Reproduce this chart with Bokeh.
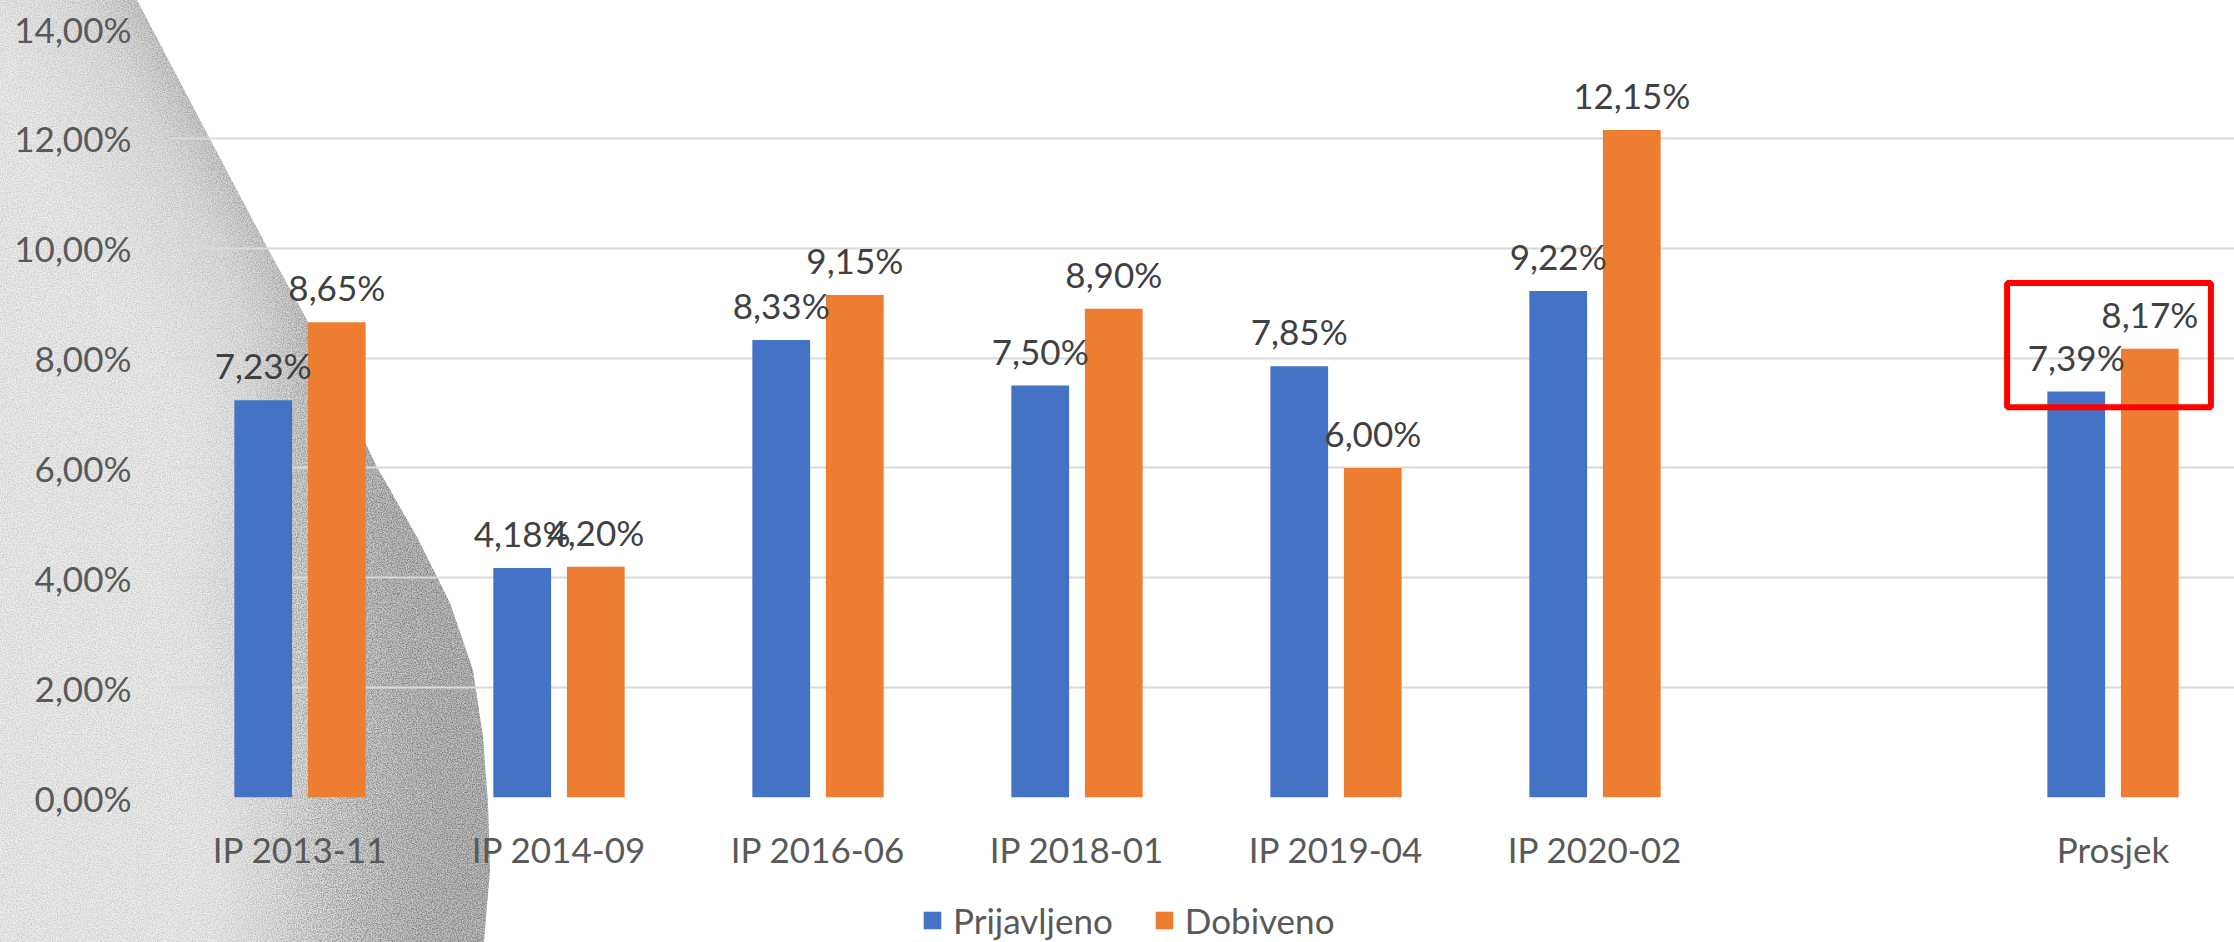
import urllib.parse
import numpy as np
from bokeh.plotting import figure
from bokeh.layouts import column
from bokeh.models import (Range1d, FixedTicker, Legend, LegendItem,
                          BoxAnnotation, ColumnDataSource)
from bokeh.core.properties import value
from bokeh.embed import file_html
from bokeh.resources import INLINE

# ---------------- data ----------------
categories = ["IP 2013-11", "IP 2014-09", "IP 2016-06", "IP 2018-01",
              "IP 2019-04", "IP 2020-02", "", "Prosjek"]
prijavljeno = [7.23, 4.18, 8.33, 7.50, 7.85, 9.22, None, 7.39]
dobiveno = [8.65, 4.20, 9.15, 8.90, 6.00, 12.15, None, 8.17]
series_names = ["Prijavljeno", "Dobiveno"]
y_ticks = [0, 2, 4, 6, 8, 10, 12, 14]
y_tick_labels = ["0,00%", "2,00%", "4,00%", "6,00%", "8,00%", "10,00%", "12,00%", "14,00%"]
highlight_category = "Prosjek"

# ---------------- style ----------------
BLUE = "#4472C4"
ORANGE = "#ED7D31"
FONT = "Lato"
FS = "35px"
W, H = 2234, 942
H_LEG = 70
H_MAIN = H - H_LEG
LEFT, TOP, BOTTOM = 170, 28, H_MAIN - 798
X_END = 7.969
BAR_W = 0.223
OFF = 0.142

def fmt(v):
    return ("%.2f%%" % v).replace(".", ",")

# ---------------- decorative grey texture (page background behind the chart) ----------------
bx = np.array([137, 200, 267, 307, 340, 377, 417, 450, 473, 483, 488, 490, 484], float)
by = np.array([0, 120, 247, 320, 390, 467, 537, 603, 670, 737, 803, 870, 942], float)
ext_y = np.concatenate([[-150], by, [1100]])
ext_x = np.concatenate([[bx[0] - 80], bx, [bx[-1]]])

def path_str(xs, ys):
    return "M" + " L".join("%.1f,%.1f" % (a, b) for a, b in zip(xs, ys)) + " Z"

def strip(w, y0, y1):
    ramp = np.clip((ext_y - y0) / max(y1 - y0, 1), 0, 1)
    ww = w * ramp
    xs = list(ext_x + 120) + list((ext_x - ww)[::-1])
    ys = list(ext_y) + list(ext_y[::-1])
    return path_str(xs, ys)

shape = path_str([-10] + list(bx) + [-10], [-10] + list(by) + [960])
layers = [(110, 0.05, -300, -200), (230, 0.06, 300, 600),
          (130, 0.07, 380, 620), (60, 0.03, 450, 700)]
strips = "".join(f"<path d='{strip(w, y0, y1)}' fill='black' fill-opacity='{a}'/>"
                 for w, a, y0, y1 in layers)
noise_strip = strip(200, 300, 620)
parts = [
    f"<svg xmlns='http://www.w3.org/2000/svg' width='{W}' height='{H}'>",
    f"<defs><clipPath id='c'><path d='{shape}'/></clipPath>",
    "<filter id='b' x='-50%' y='-50%' width='200%' height='200%'><feGaussianBlur stdDeviation='35'/></filter>",
    "<filter id='n' x='0' y='0' width='100%' height='100%'>",
    "<feTurbulence type='fractalNoise' baseFrequency='0.8' numOctaves='2' seed='5' stitchTiles='stitch' result='t'/>",
    "<feColorMatrix in='t' type='matrix' values='0 0 0 0 0  0 0 0 0 0  0 0 0 0 0  1.1 0 0 0 -0.38' result='m'/>",
    "<feComposite in='m' in2='SourceAlpha' operator='in'/>",
    "</filter>",
    f"<mask id='k' maskUnits='userSpaceOnUse' x='-200' y='-200' width='1000' height='1400'><path d='{noise_strip}' fill='white' filter='url(#b)'/></mask>",
    "</defs>",
    "<g clip-path='url(#c)'>",
    f"<rect x='0' y='0' width='520' height='{H}' fill='#eeeeee'/>",
    "<g filter='url(#b)'>", strips, "</g>",
    f"<rect x='0' y='0' width='520' height='{H}' fill='black' filter='url(#n)' opacity='0.3'/>",
    f"<g mask='url(#k)'><rect x='0' y='0' width='520' height='{H}' fill='black' filter='url(#n)' opacity='0.5'/></g>",
    "</g></svg>",
]
svg = "".join(parts)
bg_uri = "data:image/svg+xml," + urllib.parse.quote(svg)

# ---------------- main chart ----------------
p = figure(width=W, height=H_MAIN, output_backend="svg", toolbar_location=None,
           x_range=Range1d(0, X_END), y_range=Range1d(0, 14),
           min_border_left=LEFT, min_border_right=0, min_border_top=TOP,
           min_border_bottom=BOTTOM)
p.background_fill_alpha = 0
p.border_fill_alpha = 0
p.outline_line_color = None

idx = [i for i, v in enumerate(prijavljeno) if v is not None]
xc = [i + 0.5 for i in idx]
src1 = ColumnDataSource(dict(x=[c - OFF for c in xc], top=[prijavljeno[i] for i in idx],
                             lab=[fmt(prijavljeno[i]) for i in idx]))
src2 = ColumnDataSource(dict(x=[c + OFF for c in xc], top=[dobiveno[i] for i in idx],
                             lab=[fmt(dobiveno[i]) for i in idx]))
p.vbar(x="x", top="top", bottom=0, width=BAR_W, source=src1, fill_color=BLUE, line_color=None)
p.vbar(x="x", top="top", bottom=0, width=BAR_W, source=src2, fill_color=ORANGE, line_color=None)

for s in (src1, src2):
    p.text(x="x", y="top", text="lab", source=s, text_align="center", text_baseline="alphabetic",
           y_offset=-35, text_font=value(FONT), text_font_size=FS, text_color="#404040")

# highlight box around the average
hi = categories.index(highlight_category)
p.add_layout(BoxAnnotation(left=hi + 0.091, right=hi + 0.878, bottom=7.105, top=9.365,
                           fill_alpha=0, line_color="#FF0000", line_alpha=1, line_width=6))

p.xaxis.ticker = FixedTicker(ticks=[i + 0.5 for i in range(len(categories))])
p.xaxis.major_label_overrides = {i + 0.5: c for i, c in enumerate(categories)}
p.xaxis.axis_line_color = None
p.xaxis.major_tick_line_color = None
p.xaxis.minor_tick_line_color = None
p.xaxis.major_label_standoff = 24
p.xaxis.major_label_text_font = FONT
p.xaxis.major_label_text_font_size = FS
p.xaxis.major_label_text_color = "#595959"

p.yaxis.ticker = FixedTicker(ticks=y_ticks)
p.yaxis.major_label_overrides = {t: l for t, l in zip(y_ticks, y_tick_labels)}
p.yaxis.axis_line_color = None
p.yaxis.major_tick_line_color = None
p.yaxis.minor_tick_line_color = None
p.yaxis.major_label_standoff = 33
p.yaxis.major_label_text_font = FONT
p.yaxis.major_label_text_font_size = FS
p.yaxis.major_label_text_color = "#595959"

p.xgrid.grid_line_color = None
p.ygrid.ticker = FixedTicker(ticks=y_ticks)
p.ygrid.grid_line_color = "#d9d9d9"
p.ygrid.grid_line_width = 2

# ---------------- legend strip below the chart ----------------
q = figure(width=W, height=H_LEG, output_backend="svg", toolbar_location=None,
           x_range=Range1d(0, 1), y_range=Range1d(0, 1),
           x_axis_type=None, y_axis_type=None,
           min_border=0, min_border_left=0, min_border_right=0,
           min_border_top=0, min_border_bottom=0)
q.grid.visible = False
q.outline_line_color = None
q.background_fill_alpha = 0
q.border_fill_alpha = 0
# zero-height keys used only for the legend swatches
k1 = q.vbar(x=[0.5], top=[0], bottom=[0], width=0.0, fill_color=BLUE, line_color=None)
k2 = q.vbar(x=[0.5], top=[0], bottom=[0], width=0.0, fill_color=ORANGE, line_color=None)
legend = Legend(items=[LegendItem(label=series_names[0], renderers=[k1]),
                       LegendItem(label=series_names[1], renderers=[k2])],
                orientation="horizontal", location=(751, 1),
                glyph_width=22, glyph_height=22, label_standoff=10, spacing=40,
                padding=0, margin=0, border_line_color=None, background_fill_alpha=0,
                label_text_font=FONT, label_text_font_size=FS, label_text_color="#595959")
q.add_layout(legend, "center")

layout = column(p, q, spacing=0)
layout.styles = {"background-color": "white",
                 "background-image": 'url("%s")' % bg_uri,
                 "background-repeat": "no-repeat",
                 "background-position": "0 0"}

open("out.html", "w").write(file_html(layout, INLINE))
